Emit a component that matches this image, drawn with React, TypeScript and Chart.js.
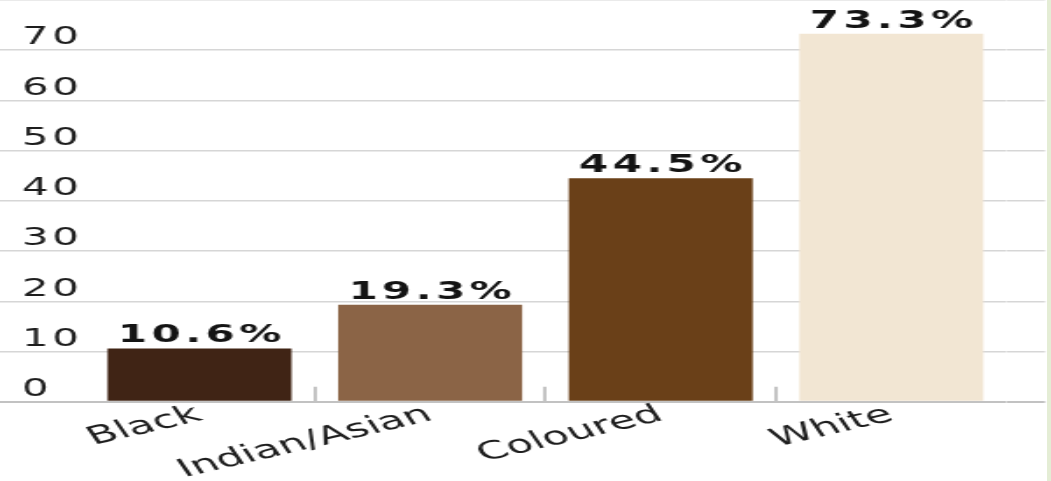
import React, { useEffect, useRef } from 'react';
import { Chart, registerables } from 'chart.js';

Chart.register(...registerables);

// ---- data ----
const categories = ['Black', 'Indian/Asian', 'Coloured', 'White'];
const values = [10.6, 19.3, 44.5, 73.3];
const barColors = ['#402415', '#8b6446', '#6a4018', '#f2e6d3'];
const yTicks = [0, 10, 20, 30, 40, 50, 60, 70, 80];

// ---- geometry (canvas is drawn narrow and stretched horizontally) ----
const PAGE_W = 1051;
const PAGE_H = 481;
const CANVAS_W = 600;
const STRETCH = PAGE_W / CANVAS_W;
const FONT = '"DejaVu Sans", sans-serif';

const valueLabels = {
  id: 'valueLabels',
  afterDatasetsDraw(chart: any) {
    const ctx = chart.ctx;
    const meta = chart.getDatasetMeta(0);
    ctx.save();
    ctx.font = `bold 24px ${FONT}`;
    try {
      ctx.letterSpacing = '2.5px';
    } catch (e) {}
    ctx.fillStyle = '#141414';
    ctx.textAlign = 'center';
    ctx.textBaseline = 'alphabetic';
    meta.data.forEach((bar: any, i: number) => {
      ctx.fillText(values[i].toFixed(1) + '%', bar.x + 1.25, bar.y - 6);
    });
    ctx.restore();
  },
};

// widen the y tick numerals a little (drawn before the datasets)
const numeralSpacing = {
  id: 'numeralSpacing',
  beforeDraw(chart: any) {
    try {
      chart.ctx.letterSpacing = '2px';
    } catch (e) {}
  },
  beforeDatasetsDraw(chart: any) {
    try {
      chart.ctx.letterSpacing = '0px';
    } catch (e) {}
  },
};

const gridColor = (c: any) => (c.tick && c.tick.value === 0 ? '#c2c2c2' : '#d6d6d6');
const gridWidth = (c: any) => (c.tick && c.tick.value === 0 ? 2 : 1.5);
const setTicks = (scale: any) => {
  scale.ticks = yTicks.map((v) => ({ value: v }));
};
const noPad = (s: any) => {
  s.paddingTop = 0;
  s.paddingBottom = 0;
  s.paddingLeft = 0;
  s.paddingRight = 0;
};

export default function App() {
  const ref = useRef<HTMLCanvasElement | null>(null);

  useEffect(() => {
    if (!ref.current) return;
    const chart = new Chart(ref.current, {
      type: 'bar',
      data: {
        labels: categories,
        datasets: [
          {
            data: values,
            backgroundColor: barColors,
            borderWidth: 0,
            categoryPercentage: 1,
            barPercentage: 0.798,
            yAxisID: 'y',
          },
        ],
      },
      plugins: [numeralSpacing, valueLabels],
      options: {
        responsive: false,
        devicePixelRatio: 1,
        animation: false,
        layout: { padding: { left: 12.6, right: 3.4, top: 0, bottom: 0 } },
        plugins: { legend: { display: false }, tooltip: { enabled: false } },
        scales: {
          x: {
            type: 'category',
            offset: true,
            border: { display: false },
            grid: {
              offset: true,
              drawOnChartArea: false,
              drawTicks: true,
              tickLength: -15,
              lineWidth: 2,
              color: (c: any) => (c.type === 'tick' && c.index > 0 ? '#c4c4c4' : 'rgba(0,0,0,0)'),
            },
            ticks: {
              z: 1,
              autoSkip: false,
              minRotation: 22,
              maxRotation: 22,
              padding: 13,
              color: '#1e1e1e',
              font: { family: FONT, size: 25 },
            },
            afterFit: (s: any) => {
              noPad(s);
              s.height = 79.3;
            },
          },
          y: {
            position: 'left',
            min: 0,
            max: 80,
            afterBuildTicks: setTicks,
            border: { display: false },
            grid: {
              drawOnChartArea: true,
              drawTicks: true,
              tickLength: 48.07,
              color: gridColor,
              lineWidth: gridWidth,
            },
            ticks: {
              crossAlign: 'far',
              labelOffset: -12,
              padding: 0,
              color: '#1e1e1e',
              font: { family: FONT, size: 24 },
            },
            afterFit: (s: any) => {
              noPad(s);
              s.width = 35.47;
            },
          },
          y2: {
            position: 'right',
            min: 0,
            max: 80,
            afterBuildTicks: setTicks,
            border: { display: false },
            grid: {
              drawOnChartArea: false,
              drawTicks: true,
              tickLength: 21.95,
              color: gridColor,
              lineWidth: gridWidth,
            },
            ticks: { display: false },
            afterFit: (s: any) => {
              noPad(s);
              s.width = 21.95;
            },
          },
        },
      },
    } as any);
    return () => chart.destroy();
  }, []);

  return (
    <div
      style={{
        position: 'absolute',
        left: 0,
        top: 0,
        width: PAGE_W,
        height: PAGE_H,
        overflow: 'hidden',
        background: '#ffffff',
      }}
    >
      <canvas
        ref={ref}
        width={CANVAS_W}
        height={PAGE_H}
        style={{
          display: 'block',
          width: CANVAS_W,
          height: PAGE_H,
          transform: `scaleX(${STRETCH})`,
          transformOrigin: '0 0',
        }}
      />
      <div
        style={{
          position: 'absolute',
          right: 0,
          top: 0,
          width: 4,
          height: PAGE_H,
          background: '#e4edd5',
        }}
      />
    </div>
  );
}
